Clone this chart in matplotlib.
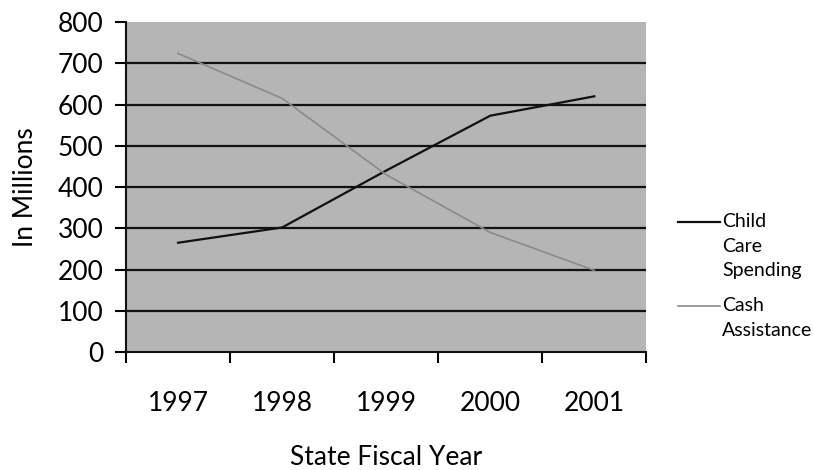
import matplotlib.pyplot as plt
from matplotlib.lines import Line2D

# Spending by state fiscal year, in millions
years = ['1997', '1998', '1999', '2000', '2001']
child_care = [265, 302, 440, 573, 620]
cash_assist = [724, 615, 430, 290, 198]

series_labels = ['Child\nCare\nSpending', 'Cash\nAssistance']
series_colors = ['#111111', '#8a8a8a']
series_widths = [1.6, 1.2]

plt.rcParams['font.family'] = ['Lato', 'DejaVu Sans']

fig = plt.figure(figsize=(8.13, 4.70), dpi=100)
ax = fig.add_axes([0.155, 0.251, 0.64, 0.702])
ax.set_facecolor('#b5b5b5')

x = [i + 0.5 for i in range(len(years))]
ax.plot(x, child_care, color=series_colors[0], lw=series_widths[0], zorder=3)
ax.plot(x, cash_assist, color=series_colors[1], lw=series_widths[1], zorder=3)

# horizontal gridlines
for v in range(100, 800, 100):
    ax.axhline(v, color='#111111', lw=1.6, zorder=2)

ax.set_xlim(0, len(years))
ax.set_ylim(0, 800)
ax.set_yticks(range(0, 900, 100))
ax.set_xticks(range(len(years) + 1))
ax.set_xticklabels([])
ax.set_xticks(x, minor=True)
ax.set_xticklabels(years, minor=True)
ax.tick_params(axis='x', which='major', direction='out', length=8, width=1.5)
ax.tick_params(axis='x', which='minor', length=0, pad=28, labelsize=19)
ax.tick_params(axis='y', direction='out', length=8, width=1.5, labelsize=19, pad=8)

for side in ['top', 'right']:
    ax.spines[side].set_visible(False)
for side in ['left', 'bottom']:
    ax.spines[side].set_linewidth(1.5)
    ax.spines[side].set_color('#111111')

ax.set_xlabel('State Fiscal Year', fontsize=19, labelpad=21)
ax.set_ylabel('In Millions', fontsize=19, labelpad=14)

# legend drawn by hand, wrapped labels beside short line keys
legend_y = [1 - 222 / 470, 1 - 306 / 470]
for lbl, col, lw, y in zip(series_labels, series_colors, series_widths, legend_y):
    fig.add_artist(Line2D([678 / 813, 720 / 813], [y, y], color=col, lw=lw))
    fig.text(722 / 813, y + 9 / 470, lbl, fontsize=14, va='top', ha='left',
             linespacing=1.55, transform=fig.transFigure)

fig.savefig('out.png', dpi=100)
